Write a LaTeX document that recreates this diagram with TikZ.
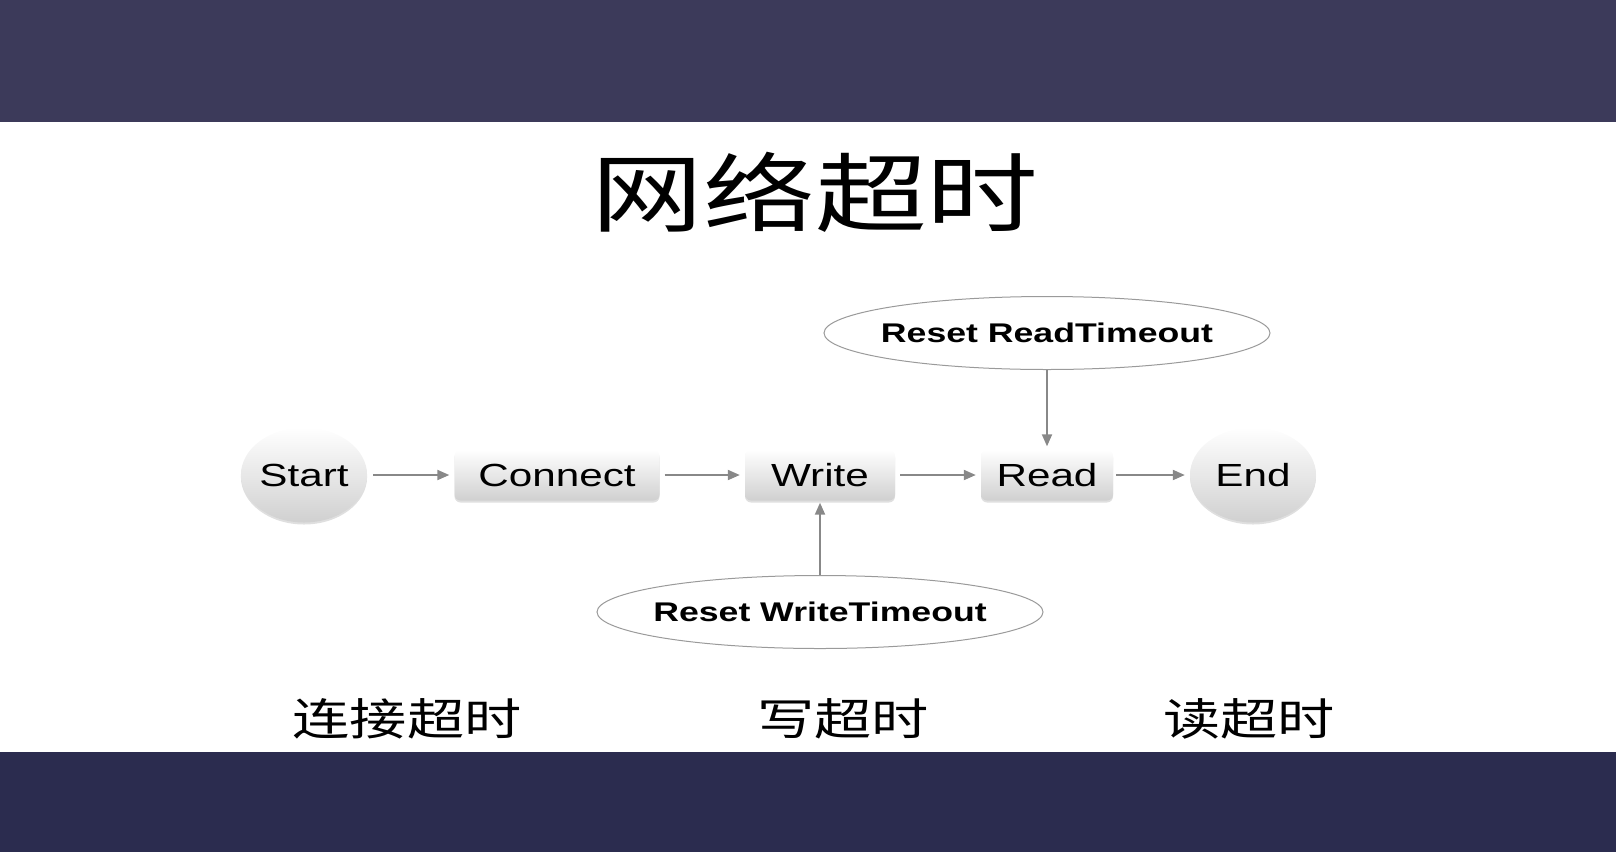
\documentclass[tikz,border=0pt]{standalone}
\usepackage{fontspec}
\setmainfont{Liberation Sans}[FakeStretch=1.32]
\newfontfamily\cjk{Noto Sans CJK SC}[FakeStretch=1.3]
\usetikzlibrary{positioning, shapes.geometric, arrows.meta, shadows}
\definecolor{bandtop}{HTML}{3C3A5A}
\definecolor{bandbot}{HTML}{2B2C4F}
\definecolor{boxshade}{HTML}{D0D0D0}
\definecolor{rimgray}{HTML}{9A9A9A}
\definecolor{arrowgray}{HTML}{888888}

\begin{document}
\begin{tikzpicture}[x=1pt, y=-1pt,
    stepbox/.style={rectangle, rounded corners=6pt, top color=white, bottom color=boxshade,
      drop shadow={opacity=0.25, shadow xshift=0pt, shadow yshift=-2pt},
      minimum height=51pt, inner sep=0pt, font=\fontsize{32}{36}\selectfont},
    endpoint/.style={ellipse, top color=white, bottom color=boxshade,
      drop shadow={opacity=0.25, shadow xshift=0pt, shadow yshift=-2pt},
      minimum width=126pt, minimum height=95pt, inner sep=0pt, font=\fontsize{32}{36}\selectfont},
    resetnote/.style={ellipse, draw=rimgray, line width=1pt, fill=white,
      minimum width=446pt, minimum height=73pt, inner xsep=-12pt, inner ysep=0pt,
      font=\bfseries\fontsize{27}{30}\selectfont},
    flow/.style={arrowgray, line width=2pt, -{Triangle[length=12pt, width=10pt]}},
    zhlabel/.style={font=\cjk\fontsize{44}{48}\selectfont}]
  \useasboundingbox (0,0) rectangle (1616,852);
  % slide bands
  \fill[bandtop] (0,0) rectangle (1616,122);
  \fill[bandbot] (0,752) rectangle (1616,852);
  \node[font=\cjk\fontsize{86}{90}\selectfont] (title) at (815,192) {网络超时};

  % main flow
  \node[endpoint] (start) at (304,475) {Start};
  \node[stepbox, minimum width=205pt] (conn) at (557,475) {Connect};
  \node[stepbox, minimum width=150pt] (write) at (820,475) {Write};
  \node[stepbox, minimum width=132pt] (read) at (1047,475) {Read};
  \node[endpoint] (stop) at (1253,475) {End};

  \node[resetnote] (resetread) at (1047,333) {Reset ReadTimeout};
  \node[resetnote] (resetwrite) at (820,612) {Reset WriteTimeout};

  \draw[flow, shorten <=6pt, shorten >=5pt] (start) -- (conn);
  \draw[flow, shorten <=5pt, shorten >=5pt] (conn) -- (write);
  \draw[flow, shorten <=5pt, shorten >=5pt] (write) -- (read);
  \draw[flow, shorten <=3pt, shorten >=5pt] (read) -- (stop);
  \draw[flow, shorten >=3pt] (resetread) -- (read);
  \draw[flow, shorten >=2pt] (resetwrite) -- (write);

  % phase labels
  \node[zhlabel] (lblconn) at (407,719) {连接超时};
  \node[zhlabel] (lblwrite) at (843,719) {写超时};
  \node[zhlabel] (lblread) at (1249,719) {读超时};
\end{tikzpicture}
\end{document}
